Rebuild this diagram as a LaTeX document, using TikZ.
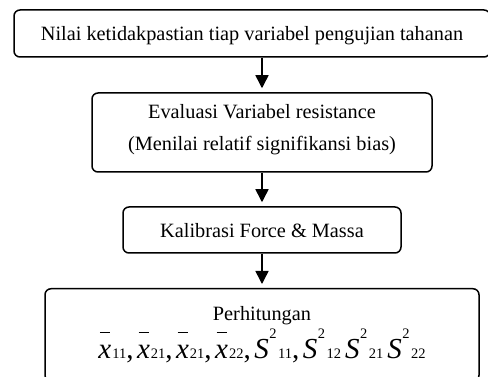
\documentclass[tikz,border=0pt]{standalone}
\usepackage{fontspec}
\setmainfont{Liberation Serif}
\usetikzlibrary{arrows.meta}

% pieces of the formula line, set from the text font
\newcommand\bigit{\fontsize{29}{29}\selectfont\itshape}
\newcommand\smallup{\fontsize{14.5}{14.5}\selectfont\upshape}
\newcommand\xbarsub[1]{\rlap{\kern1.5pt\raisebox{26pt}{\rule{10pt}{1.1pt}}}{\bigit x}\kern1pt{\smallup #1}}
\newcommand\ssqsub[1]{{\bigit S}\kern0.5pt\raisebox{20pt}{\smallup 2}\kern1.5pt{\smallup #1}}
\newcommand\sepcomma{{\fontsize{29}{29}\selectfont\upshape ,}\kern3.5pt}

\begin{document}
\begin{tikzpicture}[x=1pt,y=-1pt,
  box/.style={draw,line width=1.5pt,rounded corners=6pt,inner sep=0pt,align=center,
    font=\fontsize{20.3}{32.5}\selectfont},
  flow/.style={line width=1.5pt,shorten >=4pt,-{Triangle[width=13pt,length=13pt]}}]
\clip (0,0) rectangle (488,377);

\node[box,minimum width=476pt,minimum height=47pt,text height=15pt,text depth=0pt]
  (val) at (252,33.5) {Nilai ketidakpastian tiap variabel pengujian tahanan};
\node[box,minimum width=340pt,minimum height=79pt]
  (eval) at (262,132.5) {Evaluasi Variabel resistance\\(Menilai relatif signifikansi bias)\rule[-9.8pt]{0pt}{0pt}};
\node[box,minimum width=278pt,minimum height=46pt,text height=16pt,text depth=0pt]
  (kal) at (262,230) {Kalibrasi Force \& Massa};
\node[box,anchor=north,minimum width=434pt,inner ysep=18pt,
  font=\fontsize{20.3}{38}\selectfont]
  (hit) at (262,288) {Perhitungan\\
  \xbarsub{11}\sepcomma\xbarsub{21}\sepcomma\xbarsub{21}\sepcomma\xbarsub{22}\sepcomma
  \ssqsub{11}\sepcomma\ssqsub{12}\kern4pt\ssqsub{21}\kern4pt\ssqsub{22}};

\draw[flow] (eval.north |- val.south) -- (eval.north);
\draw[flow] (eval.south) -- (kal.north);
\draw[flow] (kal.south) -- (hit.north);
\end{tikzpicture}
\end{document}
